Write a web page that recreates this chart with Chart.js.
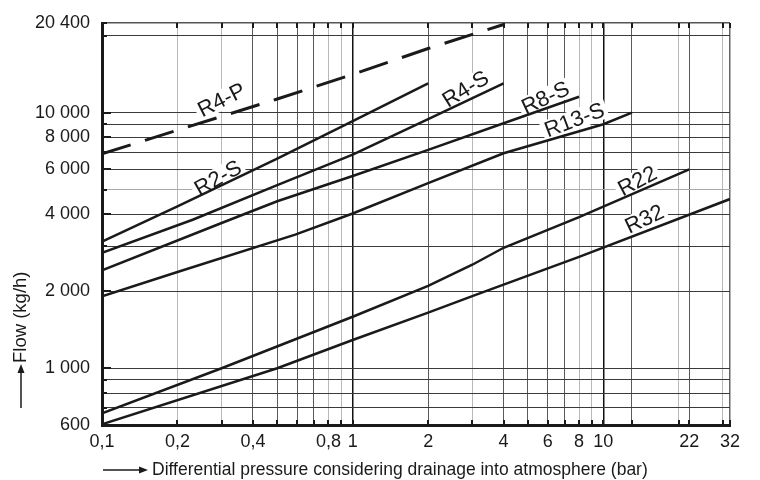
<!DOCTYPE html>
<html><head><meta charset="utf-8">
<script src="https://cdn.jsdelivr.net/npm/chart.js@4.4.1/dist/chart.umd.min.js"></script>
<style>html,body{margin:0;padding:0;background:#fff}#wrap{position:relative;width:760px;height:480px}</style>
</head><body><div id="wrap"><canvas id="c"></canvas></div>
<script>
// ---- axis ticks / grid ----
const xTickValues = [0.1, 0.2, 0.4, 0.8, 1, 2, 4, 6, 8, 10, 22, 32];
const xGridValues = [0.1, 0.2, 0.3, 0.4, 0.5, 0.6, 0.7, 0.8, 0.9, 1, 2, 3, 4, 5, 6, 7, 8, 9, 10, 13, 20, 22, 30, 32];
const xLightGrid = [0.2, 0.3, 0.8, 0.9, 3, 8, 9, 20, 30];
const xBlackGrid = [1, 10];
const yTickValues = [600, 1000, 2000, 4000, 6000, 8000, 10000];
const yGridValues = [600, 700, 800, 900, 1000, 2000, 3000, 4000, 5000, 6000, 7000, 8000, 9000, 10000, 20000, 22400];
const yLightGrid = [5000];
const yTopLabel = '20 400';
const xMin = 0.1, xMax = 32, yMin = 600, yMax = 22400;
const xTitle = 'Differential pressure considering drainage into atmosphere (bar)';
const yTitle = 'Flow (kg/h)';

// ---- series (pressure bar, flow kg/h) ----
const seriesNames = ['R4-P', 'R2-S', 'R4-S', 'R8-S', 'R13-S', 'R22', 'R32'];
const r4pX = [0.1, 0.5, 1, 2, 4];
const r4pY = [6900, 11300, 14100, 17800, 22100];
const r2sX = [0.1, 0.2, 0.5, 1, 2];
const r2sY = [3130, 4300, 6600, 9250, 13000];
const r4sX = [0.1, 0.23, 0.5, 1, 2, 4];
const r4sY = [2825, 3810, 5200, 6850, 9420, 13000];
const r8sX = [0.1, 0.3, 0.5, 1, 2, 4, 8];
const r8sY = [2415, 3700, 4500, 5650, 7150, 9080, 11530];
const r13sX = [0.1, 0.2, 0.59, 1, 2, 4, 10, 13];
const r13sY = [1913, 2380, 3330, 4030, 5300, 6930, 9000, 10000];
const r22X = [0.1, 0.3, 1, 2, 3, 4, 8, 22];
const r22Y = [666, 1000, 1590, 2100, 2540, 2960, 3900, 6000];
const r32X = [0.1, 0.5, 1, 2, 3, 8, 32];
const r32Y = [604, 1000, 1290, 1650, 1914, 2727, 4590];

// curve label anchors (data units) and text angles (deg)
const labelX = [0.30, 0.29, 2.82, 5.87, 7.66, 13.66, 14.57];
const labelY = [11210, 5553, 12380, 11420, 9360, 5405, 3837];
const labelAngle = [26.6, 29.5, 31.8, 25, 20.7, 28, 25.5];

const FONT = "'Liberation Sans', Arial, Helvetica, sans-serif";
const INK = '#1a1a1a';

const seriesX = [r4pX, r2sX, r4sX, r8sX, r13sX, r22X, r32X];
const seriesY = [r4pY, r2sY, r4sY, r8sY, r13sY, r22Y, r32Y];
const datasets = seriesNames.map((n, i) => ({
  label: n,
  data: seriesX[i].map((x, k) => ({x: x, y: seriesY[i][k]})),
  showLine: true,
  borderColor: INK,
  borderWidth: i === 0 ? 3 : 2.5,
  borderDash: i === 0 ? [30, 15] : [],
  pointRadius: 0,
  tension: 0,
  fill: false
}));

function fmtThousands(v) { return String(v).replace(/\B(?=(\d{3})+(?!\d))/g, ' '); }

function arrow(ctx, x1, y1, x2, y2) {
  const a = Math.atan2(y2 - y1, x2 - x1);
  ctx.beginPath(); ctx.moveTo(x1, y1); ctx.lineTo(x2 - 7 * Math.cos(a), y2 - 7 * Math.sin(a)); ctx.stroke();
  ctx.beginPath();
  ctx.moveTo(x2, y2);
  ctx.lineTo(x2 - 9 * Math.cos(a) + 3.5 * Math.sin(a), y2 - 9 * Math.sin(a) - 3.5 * Math.cos(a));
  ctx.lineTo(x2 - 9 * Math.cos(a) - 3.5 * Math.sin(a), y2 - 9 * Math.sin(a) + 3.5 * Math.cos(a));
  ctx.closePath(); ctx.fill();
}

const decor = {
  id: 'decor',
  beforeDatasetsDraw(chart) {
    const {ctx, scales: {x, y}} = chart;
    ctx.save();
    ctx.font = '22px ' + FONT;
    seriesNames.forEach((t, i) => {
      const px = x.getPixelForValue(labelX[i]), py = y.getPixelForValue(labelY[i]);
      const w = ctx.measureText(t).width;
      ctx.save(); ctx.translate(px, py); ctx.rotate(-labelAngle[i] * Math.PI / 180);
      ctx.fillStyle = '#fff'; ctx.fillRect(-w / 2 - 3, -10, w + 6, 20);
      ctx.restore();
    });
    ctx.restore();
  },
  afterDatasetsDraw(chart) {
    const {ctx, chartArea: ca, scales: {x, y}} = chart;
    ctx.save();
    // curve labels
    ctx.font = '22px ' + FONT;
    ctx.fillStyle = INK; ctx.textAlign = 'center'; ctx.textBaseline = 'middle';
    seriesNames.forEach((t, i) => {
      const px = x.getPixelForValue(labelX[i]), py = y.getPixelForValue(labelY[i]);
      ctx.save(); ctx.translate(px, py); ctx.rotate(-labelAngle[i] * Math.PI / 180);
      ctx.fillText(t, 0, 1);
      ctx.restore();
    });
    // tick marks on frame
    ctx.strokeStyle = INK; ctx.lineWidth = 2;
    xGridValues.forEach(v => {
      const px = Math.round(x.getPixelForValue(v));
      ctx.beginPath(); ctx.moveTo(px, ca.bottom); ctx.lineTo(px, ca.bottom - 5); ctx.stroke();
      ctx.beginPath(); ctx.moveTo(px, ca.top); ctx.lineTo(px, ca.top + 5); ctx.stroke();
    });
    yGridValues.forEach(v => {
      const py = Math.round(y.getPixelForValue(v));
      const len = yTickValues.includes(v) ? 9 : 5;
      ctx.beginPath(); ctx.moveTo(ca.left, py); ctx.lineTo(ca.left + len, py); ctx.stroke();
    });
    // axis titles with arrows
    ctx.fillStyle = INK; ctx.strokeStyle = INK; ctx.lineWidth = 1.5;
    ctx.font = '17.5px ' + FONT;
    ctx.textAlign = 'left'; ctx.textBaseline = 'middle';
    const ty = ca.bottom + 45;
    ctx.fillText(xTitle, ca.left + 50, ty);
    arrow(ctx, ca.left + 1, ty, ca.left + 46, ty);
    ctx.save();
    ctx.translate(21, ca.bottom - 62);
    ctx.rotate(-Math.PI / 2);
    ctx.textAlign = 'left';
    ctx.font = '18.5px ' + FONT;
    ctx.fillText(yTitle, 0, 0);
    ctx.restore();
    arrow(ctx, 21, ca.bottom - 17, 21, ca.bottom - 61);
    ctx.restore();
  }
};

new Chart(document.getElementById('c'), {
  type: 'scatter',
  data: {datasets},
  plugins: [decor],
  options: {
    responsive: true,
    maintainAspectRatio: false,
    animation: false,
    layout: {padding: {top: 23, right: 30, left: 0, bottom: 0}},
    plugins: {legend: {display: false}, tooltip: {enabled: false}},
    scales: {
      x: {
        type: 'logarithmic', min: xMin, max: xMax,
        afterBuildTicks: s => { s.ticks = xGridValues.map(v => ({value: v})); },
        afterFit: s => { s.height = 55; },
        border: {display: true, color: INK, width: 3},
        grid: {
          drawTicks: false,
          color: c => xBlackGrid.includes(c.tick.value) ? '#111' : (xLightGrid.includes(c.tick.value) ? '#b8b8b8' : (c.tick.value === xMax ? '#666' : '#5a5a5a')),
          lineWidth: c => xBlackGrid.includes(c.tick.value) ? 1.5 : (c.tick.value === xMax ? 1.5 : 1)
        },
        ticks: {
          autoSkip: false, maxRotation: 0, padding: 6, color: INK,
          font: {family: FONT, size: 18},
          callback: v => xTickValues.includes(v) ? String(v).replace('.', ',') : ''
        }
      },
      y: {
        type: 'logarithmic', min: yMin, max: yMax,
        afterBuildTicks: s => { s.ticks = yGridValues.map(v => ({value: v})); },
        afterFit: s => { s.width = 102; },
        border: {display: true, color: INK, width: 3},
        grid: {
          drawTicks: false,
          color: c => yLightGrid.includes(c.tick.value) ? '#a8a8a8' : (c.tick.value === yMax ? '#555' : '#3a3a3a'),
          lineWidth: c => c.tick.value === yMax ? 1.5 : 1
        },
        ticks: {
          autoSkip: false, padding: 12, color: INK,
          font: {family: FONT, size: 18},
          callback: v => v === yMax ? yTopLabel : (yTickValues.includes(v) ? fmtThousands(v) : '')
        }
      }
    }
  }
});
</script>
</body></html>
